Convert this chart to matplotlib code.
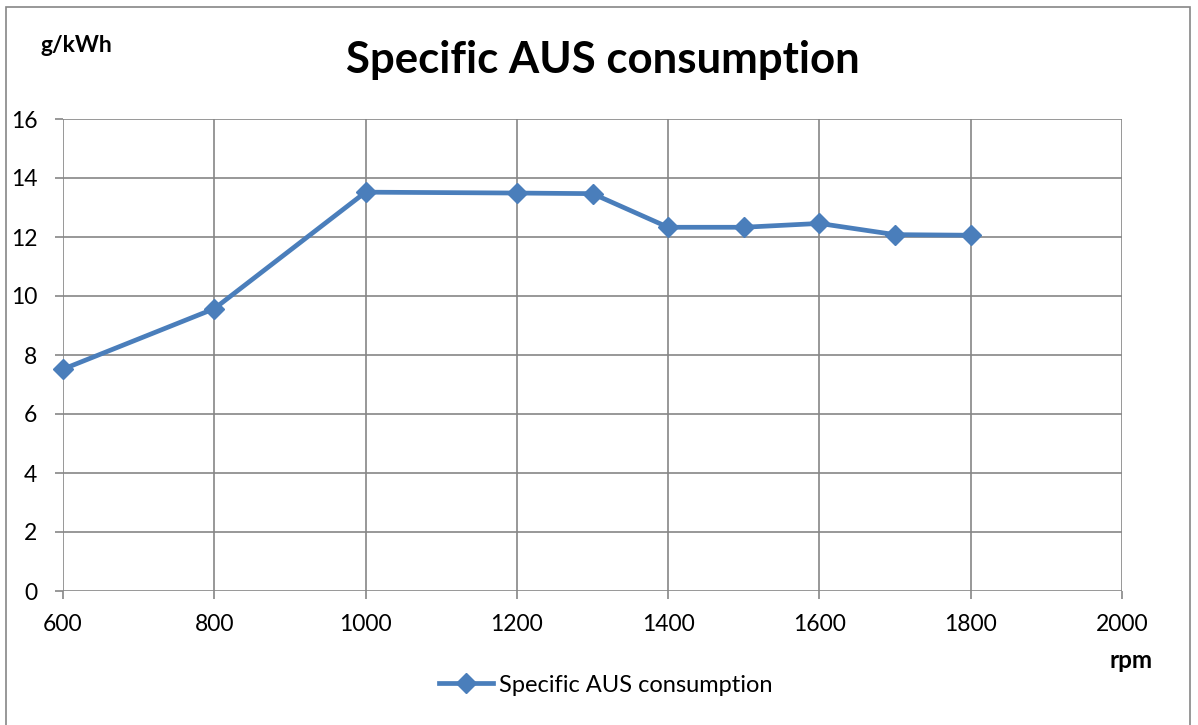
import matplotlib.pyplot as plt
from matplotlib.patches import Rectangle

# data
rpm = [600, 800, 1000, 1200, 1300, 1400, 1500, 1600, 1700, 1800]
consumption = [7.52, 9.57, 13.52, 13.49, 13.47, 12.33, 12.33, 12.46, 12.08, 12.06]
x_ticks = [600, 800, 1000, 1200, 1400, 1600, 1800, 2000]
y_ticks = [0, 2, 4, 6, 8, 10, 12, 14, 16]

line_color = "#4A7EBB"
grid_color = "#868686"

plt.rcParams["font.family"] = ["Lato", "DejaVu Sans"]

fig = plt.figure(figsize=(11.98, 7.25), dpi=100)
ax = fig.add_axes([63 / 1198, 1 - 591 / 725, (1122 - 63) / 1198, (591 - 119) / 725])

# outer chart border
fig.patches.append(Rectangle((6 / 1198, -0.01), 1184 / 1198, 1 - 7 / 725 + 0.01,
                             transform=fig.transFigure, fill=False,
                             edgecolor=grid_color, linewidth=1.2))

ax.plot(rpm, consumption, color=line_color, linewidth=3.4, marker="D",
        markersize=10.5, label="Specific AUS consumption", clip_on=False, zorder=3)

ax.set_xlim(600, 2000)
ax.set_ylim(0, 16)
ax.set_xticks(x_ticks)
ax.set_yticks(y_ticks)
ax.grid(True, color=grid_color, linewidth=1.2)
ax.set_axisbelow(True)
for s in ax.spines.values():
    s.set_visible(False)
ax.tick_params(axis="both", direction="out", length=5.5, width=1.2, color=grid_color,
               labelsize=16.5, labelcolor="black")
ax.tick_params(axis="x", pad=11)
ax.tick_params(axis="y", pad=13)

fig.text(603 / 1198, 1 - 60 / 725, "Specific AUS consumption", ha="center", va="center",
         fontsize=31.5, fontweight="bold")
fig.text(76 / 1198, 1 - 45 / 725, "g/kWh", ha="center", va="center",
         fontsize=16.5, fontweight="bold")
fig.text(1131 / 1198, 1 - 661 / 725, "rpm", ha="center", va="center",
         fontsize=17.5, fontweight="bold")

fig.legend(loc="center", bbox_to_anchor=(606 / 1198, 1 - 685 / 725), frameon=False,
           fontsize=17, handlelength=2.3, handletextpad=0.25)

fig.savefig("out.png", dpi=100)
